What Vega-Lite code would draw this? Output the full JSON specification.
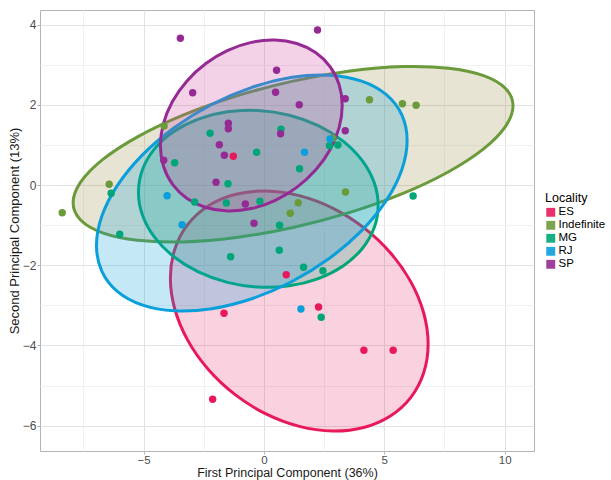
{
  "$schema": "https://vega.github.io/schema/vega-lite/v6.json",
  "autosize": "none",
  "width": 494,
  "height": 441,
  "padding": {"left": 40, "top": 10, "right": 77, "bottom": 29},
  "background": "white",
  "config": {
    "font": "Liberation Sans",
    "view": {"stroke": "#b3b3b3", "strokeWidth": 1},
    "axis": {
      "domain": false,
      "labelFont": "Liberation Sans",
      "labelFontSize": 12,
      "labelColor": "#4d4d4d",
      "titleFont": "Liberation Sans",
      "titleFontSize": 13,
      "titleFontWeight": "normal",
      "titleColor": "#1a1a1a",
      "tickSize": 3,
      "labelPadding": 1
    }
  },
  "datasets": {
    "ell": [
      {"Locality": "ES", "i": 0, "x": 6.822, "y": -3.965},
      {"Locality": "ES", "i": 1, "x": 6.639, "y": -4.682},
      {"Locality": "ES", "i": 2, "x": 6.105, "y": -5.294},
      {"Locality": "ES", "i": 3, "x": 5.254, "y": -5.759},
      {"Locality": "ES", "i": 4, "x": 4.146, "y": -6.046},
      {"Locality": "ES", "i": 5, "x": 2.854, "y": -6.135},
      {"Locality": "ES", "i": 6, "x": 1.469, "y": -6.020},
      {"Locality": "ES", "i": 7, "x": 0.084, "y": -5.709},
      {"Locality": "ES", "i": 8, "x": -1.208, "y": -5.222},
      {"Locality": "ES", "i": 9, "x": -2.316, "y": -4.595},
      {"Locality": "ES", "i": 10, "x": -3.167, "y": -3.868},
      {"Locality": "ES", "i": 11, "x": -3.701, "y": -3.092},
      {"Locality": "ES", "i": 12, "x": -3.884, "y": -2.319},
      {"Locality": "ES", "i": 13, "x": -3.701, "y": -1.602},
      {"Locality": "ES", "i": 14, "x": -3.167, "y": -0.990},
      {"Locality": "ES", "i": 15, "x": -2.316, "y": -0.525},
      {"Locality": "ES", "i": 16, "x": -1.208, "y": -0.238},
      {"Locality": "ES", "i": 17, "x": 0.084, "y": -0.149},
      {"Locality": "ES", "i": 18, "x": 1.469, "y": -0.264},
      {"Locality": "ES", "i": 19, "x": 2.854, "y": -0.575},
      {"Locality": "ES", "i": 20, "x": 4.146, "y": -1.062},
      {"Locality": "ES", "i": 21, "x": 5.254, "y": -1.689},
      {"Locality": "ES", "i": 22, "x": 6.105, "y": -2.416},
      {"Locality": "ES", "i": 23, "x": 6.639, "y": -3.192},
      {"Locality": "Indefinite", "i": 0, "x": 10.349, "y": 1.975},
      {"Locality": "Indefinite", "i": 1, "x": 10.037, "y": 1.462},
      {"Locality": "Indefinite", "i": 2, "x": 9.125, "y": 0.900},
      {"Locality": "Indefinite", "i": 3, "x": 7.673, "y": 0.331},
      {"Locality": "Indefinite", "i": 4, "x": 5.781, "y": -0.210},
      {"Locality": "Indefinite", "i": 5, "x": 3.577, "y": -0.684},
      {"Locality": "Indefinite", "i": 6, "x": 1.212, "y": -1.059},
      {"Locality": "Indefinite", "i": 7, "x": -1.153, "y": -1.310},
      {"Locality": "Indefinite", "i": 8, "x": -3.357, "y": -1.420},
      {"Locality": "Indefinite", "i": 9, "x": -5.249, "y": -1.379},
      {"Locality": "Indefinite", "i": 10, "x": -6.701, "y": -1.194},
      {"Locality": "Indefinite", "i": 11, "x": -7.613, "y": -0.874},
      {"Locality": "Indefinite", "i": 12, "x": -7.925, "y": -0.443},
      {"Locality": "Indefinite", "i": 13, "x": -7.613, "y": 0.070},
      {"Locality": "Indefinite", "i": 14, "x": -6.701, "y": 0.632},
      {"Locality": "Indefinite", "i": 15, "x": -5.249, "y": 1.201},
      {"Locality": "Indefinite", "i": 16, "x": -3.357, "y": 1.742},
      {"Locality": "Indefinite", "i": 17, "x": -1.153, "y": 2.216},
      {"Locality": "Indefinite", "i": 18, "x": 1.212, "y": 2.591},
      {"Locality": "Indefinite", "i": 19, "x": 3.577, "y": 2.842},
      {"Locality": "Indefinite", "i": 20, "x": 5.781, "y": 2.952},
      {"Locality": "Indefinite", "i": 21, "x": 7.673, "y": 2.911},
      {"Locality": "Indefinite", "i": 22, "x": 9.125, "y": 2.726},
      {"Locality": "Indefinite", "i": 23, "x": 10.037, "y": 2.406},
      {"Locality": "MG", "i": 0, "x": 4.747, "y": -0.510},
      {"Locality": "MG", "i": 1, "x": 4.577, "y": -1.074},
      {"Locality": "MG", "i": 2, "x": 4.080, "y": -1.589},
      {"Locality": "MG", "i": 3, "x": 3.289, "y": -2.017},
      {"Locality": "MG", "i": 4, "x": 2.258, "y": -2.333},
      {"Locality": "MG", "i": 5, "x": 1.057, "y": -2.513},
      {"Locality": "MG", "i": 6, "x": -0.232, "y": -2.545},
      {"Locality": "MG", "i": 7, "x": -1.521, "y": -2.427},
      {"Locality": "MG", "i": 8, "x": -2.722, "y": -2.167},
      {"Locality": "MG", "i": 9, "x": -3.753, "y": -1.783},
      {"Locality": "MG", "i": 10, "x": -4.544, "y": -1.301},
      {"Locality": "MG", "i": 11, "x": -5.041, "y": -0.754},
      {"Locality": "MG", "i": 12, "x": -5.211, "y": -0.178},
      {"Locality": "MG", "i": 13, "x": -5.041, "y": 0.386},
      {"Locality": "MG", "i": 14, "x": -4.544, "y": 0.901},
      {"Locality": "MG", "i": 15, "x": -3.753, "y": 1.329},
      {"Locality": "MG", "i": 16, "x": -2.722, "y": 1.645},
      {"Locality": "MG", "i": 17, "x": -1.521, "y": 1.825},
      {"Locality": "MG", "i": 18, "x": -0.232, "y": 1.857},
      {"Locality": "MG", "i": 19, "x": 1.057, "y": 1.739},
      {"Locality": "MG", "i": 20, "x": 2.258, "y": 1.479},
      {"Locality": "MG", "i": 21, "x": 3.289, "y": 1.095},
      {"Locality": "MG", "i": 22, "x": 4.080, "y": 0.613},
      {"Locality": "MG", "i": 23, "x": 4.577, "y": 0.066},
      {"Locality": "RJ", "i": 0, "x": 5.950, "y": 1.109},
      {"Locality": "RJ", "i": 1, "x": 5.730, "y": 0.382},
      {"Locality": "RJ", "i": 2, "x": 5.086, "y": -0.384},
      {"Locality": "RJ", "i": 3, "x": 4.060, "y": -1.138},
      {"Locality": "RJ", "i": 4, "x": 2.724, "y": -1.828},
      {"Locality": "RJ", "i": 5, "x": 1.168, "y": -2.407},
      {"Locality": "RJ", "i": 6, "x": -0.502, "y": -2.836},
      {"Locality": "RJ", "i": 7, "x": -2.172, "y": -3.085},
      {"Locality": "RJ", "i": 8, "x": -3.728, "y": -3.138},
      {"Locality": "RJ", "i": 9, "x": -5.064, "y": -2.990},
      {"Locality": "RJ", "i": 10, "x": -6.090, "y": -2.652},
      {"Locality": "RJ", "i": 11, "x": -6.734, "y": -2.146},
      {"Locality": "RJ", "i": 12, "x": -6.954, "y": -1.509},
      {"Locality": "RJ", "i": 13, "x": -6.734, "y": -0.782},
      {"Locality": "RJ", "i": 14, "x": -6.090, "y": -0.016},
      {"Locality": "RJ", "i": 15, "x": -5.064, "y": 0.738},
      {"Locality": "RJ", "i": 16, "x": -3.728, "y": 1.428},
      {"Locality": "RJ", "i": 17, "x": -2.172, "y": 2.007},
      {"Locality": "RJ", "i": 18, "x": -0.502, "y": 2.436},
      {"Locality": "RJ", "i": 19, "x": 1.168, "y": 2.685},
      {"Locality": "RJ", "i": 20, "x": 2.724, "y": 2.738},
      {"Locality": "RJ", "i": 21, "x": 4.060, "y": 2.590},
      {"Locality": "RJ", "i": 22, "x": 5.086, "y": 2.252},
      {"Locality": "RJ", "i": 23, "x": 5.730, "y": 1.746},
      {"Locality": "SP", "i": 0, "x": 3.253, "y": 1.983},
      {"Locality": "SP", "i": 1, "x": 3.124, "y": 1.430},
      {"Locality": "SP", "i": 2, "x": 2.747, "y": 0.880},
      {"Locality": "SP", "i": 3, "x": 2.147, "y": 0.372},
      {"Locality": "SP", "i": 4, "x": 1.365, "y": -0.060},
      {"Locality": "SP", "i": 5, "x": 0.454, "y": -0.388},
      {"Locality": "SP", "i": 6, "x": -0.523, "y": -0.588},
      {"Locality": "SP", "i": 7, "x": -1.500, "y": -0.646},
      {"Locality": "SP", "i": 8, "x": -2.411, "y": -0.560},
      {"Locality": "SP", "i": 9, "x": -3.193, "y": -0.334},
      {"Locality": "SP", "i": 10, "x": -3.793, "y": 0.016},
      {"Locality": "SP", "i": 11, "x": -4.170, "y": 0.466},
      {"Locality": "SP", "i": 12, "x": -4.299, "y": 0.985},
      {"Locality": "SP", "i": 13, "x": -4.170, "y": 1.538},
      {"Locality": "SP", "i": 14, "x": -3.793, "y": 2.088},
      {"Locality": "SP", "i": 15, "x": -3.193, "y": 2.596},
      {"Locality": "SP", "i": 16, "x": -2.411, "y": 3.028},
      {"Locality": "SP", "i": 17, "x": -1.500, "y": 3.356},
      {"Locality": "SP", "i": 18, "x": -0.523, "y": 3.556},
      {"Locality": "SP", "i": 19, "x": 0.454, "y": 3.614},
      {"Locality": "SP", "i": 20, "x": 1.365, "y": 3.528},
      {"Locality": "SP", "i": 21, "x": 2.147, "y": 3.302},
      {"Locality": "SP", "i": 22, "x": 2.747, "y": 2.952},
      {"Locality": "SP", "i": 23, "x": 3.124, "y": 2.502}
    ],
    "pts": [
      {"Locality": "ES", "x": -1.270, "y": 0.716},
      {"Locality": "ES", "x": 0.929, "y": -2.237},
      {"Locality": "ES", "x": -1.656, "y": -3.200},
      {"Locality": "ES", "x": 2.270, "y": -3.042},
      {"Locality": "ES", "x": 4.154, "y": -4.122},
      {"Locality": "ES", "x": 5.369, "y": -4.122},
      {"Locality": "ES", "x": -2.129, "y": -5.344},
      {"Locality": "Indefinite", "x": -4.145, "y": 1.471},
      {"Locality": "Indefinite", "x": -6.427, "y": 0.017},
      {"Locality": "Indefinite", "x": -8.378, "y": -0.691},
      {"Locality": "Indefinite", "x": 4.386, "y": 2.127},
      {"Locality": "Indefinite", "x": 2.867, "y": 1.165},
      {"Locality": "Indefinite", "x": 3.390, "y": -0.175},
      {"Locality": "Indefinite", "x": 1.427, "y": -0.441},
      {"Locality": "Indefinite", "x": 1.095, "y": -0.706},
      {"Locality": "Indefinite", "x": 5.755, "y": 2.027},
      {"Locality": "Indefinite", "x": 6.324, "y": 1.988},
      {"Locality": "MG", "x": -3.705, "y": 0.556},
      {"Locality": "MG", "x": -6.344, "y": -0.207},
      {"Locality": "MG", "x": -2.876, "y": -0.424},
      {"Locality": "MG", "x": -5.988, "y": -1.229},
      {"Locality": "MG", "x": 2.726, "y": 0.980},
      {"Locality": "MG", "x": 3.075, "y": 0.998},
      {"Locality": "MG", "x": -2.237, "y": 1.289},
      {"Locality": "MG", "x": 0.710, "y": 1.389},
      {"Locality": "MG", "x": -0.303, "y": 0.815},
      {"Locality": "MG", "x": 1.481, "y": 0.406},
      {"Locality": "MG", "x": -1.490, "y": 0.032},
      {"Locality": "MG", "x": -1.560, "y": -0.449},
      {"Locality": "MG", "x": -0.162, "y": -0.406},
      {"Locality": "MG", "x": 0.651, "y": -1.005},
      {"Locality": "MG", "x": 6.199, "y": -0.274},
      {"Locality": "MG", "x": -1.382, "y": -1.788},
      {"Locality": "MG", "x": 0.639, "y": -1.628},
      {"Locality": "MG", "x": 1.647, "y": -2.052},
      {"Locality": "MG", "x": 2.452, "y": -2.137},
      {"Locality": "MG", "x": 2.382, "y": -3.299},
      {"Locality": "RJ", "x": -4.021, "y": -0.267},
      {"Locality": "RJ", "x": -3.398, "y": -0.990},
      {"Locality": "RJ", "x": 2.743, "y": 1.147},
      {"Locality": "RJ", "x": 1.689, "y": 0.815},
      {"Locality": "RJ", "x": 1.539, "y": -3.092},
      {"Locality": "SP", "x": -3.469, "y": 3.658},
      {"Locality": "SP", "x": -2.959, "y": 2.302},
      {"Locality": "SP", "x": -4.162, "y": 0.616},
      {"Locality": "SP", "x": 2.228, "y": 3.865},
      {"Locality": "SP", "x": 0.527, "y": 2.860},
      {"Locality": "SP", "x": 0.485, "y": 2.312},
      {"Locality": "SP", "x": 1.469, "y": 2.002},
      {"Locality": "SP", "x": 3.378, "y": 2.152},
      {"Locality": "SP", "x": 3.378, "y": 1.354},
      {"Locality": "SP", "x": -1.477, "y": 1.539},
      {"Locality": "SP", "x": -1.477, "y": 1.404},
      {"Locality": "SP", "x": 0.693, "y": 1.279},
      {"Locality": "SP", "x": -1.851, "y": 1.005},
      {"Locality": "SP", "x": -1.643, "y": 0.741},
      {"Locality": "SP", "x": -1.988, "y": 0.067},
      {"Locality": "SP", "x": -0.772, "y": -0.474},
      {"Locality": "SP", "x": -0.411, "y": -0.955}
    ]
  },
  "encoding": {
    "x": {
      "field": "x", "type": "quantitative",
      "scale": {"domain": [-9.3, 11.22], "nice": false, "zero": false},
      "axis": {
        "title": "First Principal Component (36%)",
        "values": [-7.5, -5, -2.5, 0, 2.5, 5, 7.5, 10],
        "labelExpr": "datum.value % 5 === 0 ? datum.label : ''",
        "gridColor": {"condition": {"test": "datum.value % 5 !== 0", "value": "#f1f1f1"}, "value": "#e2e2e2"},
        "tickOpacity": {"condition": {"test": "datum.value % 5 !== 0", "value": 0}, "value": 1},
        "tickColor": "#b3b3b3",
        "labelFontSize": 11.5,
        "labelPadding": 0,
        "titleFontSize": 12.5,
        "titleBaseline": "top",
        "titleY": 15
      }
    },
    "y": {
      "field": "y", "type": "quantitative",
      "scale": {"domain": [-6.633, 4.364], "nice": false, "zero": false},
      "axis": {
        "title": "Second Principal Component (13%)",
        "values": [-6, -5, -4, -3, -2, -1, 0, 1, 2, 3, 4],
        "labelExpr": "datum.value % 2 === 0 ? datum.label : ''",
        "gridColor": {"condition": {"test": "datum.value % 2 !== 0", "value": "#f1f1f1"}, "value": "#e2e2e2"},
        "tickOpacity": {"condition": {"test": "datum.value % 2 !== 0", "value": 0}, "value": 1},
        "tickColor": "#b3b3b3",
        "titlePadding": 1
      }
    }
  },
  "layer": [
    {
      "data": {"name": "ell"},
      "mark": {"type": "line", "interpolate": "cardinal-closed", "strokeWidth": 3},
      "encoding": {
        "order": {"field": "i", "type": "quantitative"},
        "color": {
          "field": "Locality", "type": "nominal",
          "scale": {"domain": ["ES", "Indefinite", "MG", "RJ", "SP"], "range": ["#E8195A", "#6B9A3A", "#00A678", "#0A9FDB", "#952A94"]}
        },
        "fill": {
          "field": "Locality", "type": "nominal",
          "scale": {"domain": ["ES", "Indefinite", "MG", "RJ", "SP"], "range": ["#E8195A", "#8F8030", "#00A678", "#0A9FDB", "#D0479A"]},
          "legend": null
        },
        "fillOpacity": {
          "field": "Locality", "type": "nominal",
          "scale": {"domain": ["ES", "Indefinite", "MG", "RJ", "SP"], "range": [0.2, 0.25, 0.25, 0.28, 0.22]},
          "legend": null
        }
      }
    },
    {
      "data": {"name": "pts"},
      "mark": {"type": "point", "filled": true, "size": 55, "opacity": 1},
      "encoding": {
        "color": {
          "field": "Locality", "type": "nominal",
          "legend": {
            "title": "Locality",
            "orient": "none",
            "legendX": 505,
            "legendY": 182,
            "symbolType": "square",
            "symbolSize": 80,
            "symbolOpacity": 0.9,
            "symbolStrokeWidth": 0,
            "titleFont": "Liberation Sans",
            "titleFontSize": 12.5,
            "titleFontWeight": "normal",
            "titleColor": "#000000",
            "titlePadding": 3,
            "labelFont": "Liberation Sans",
            "labelFontSize": 11.5,
            "labelColor": "#000000",
            "labelOffset": 2,
            "rowPadding": 0,
            "clipHeight": 9.5
          }
        }
      }
    }
  ]
}
